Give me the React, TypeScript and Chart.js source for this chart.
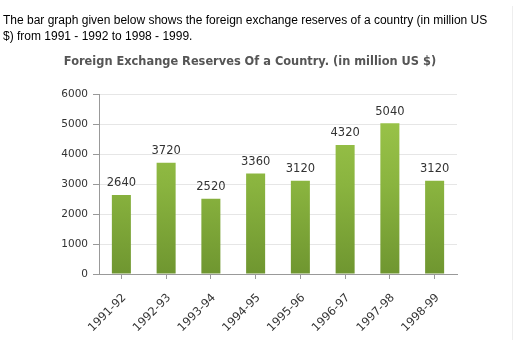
import React, { useEffect, useRef } from "react";
import { Chart, registerables } from "chart.js";

Chart.register(...registerables);

const categories = ["1991-92", "1992-93", "1993-94", "1994-95", "1995-96", "1996-97", "1997-98", "1998-99"];
const reserves = [2640, 3720, 2520, 3360, 3120, 4320, 5040, 3120];
const yTicks = [0, 1000, 2000, 3000, 4000, 5000, 6000];
const chartTitle = "Foreign Exchange Reserves Of a Country. (in million US $)";
const introLine1 = "The bar graph given below shows the foreign exchange reserves of a country (in million US";
const introLine2 = "$) from 1991 - 1992 to 1998 - 1999.";

const FONT = "Verdana, 'DejaVu Sans', sans-serif";

export default function App() {
  const ref = useRef<HTMLCanvasElement | null>(null);

  useEffect(() => {
    const canvas = ref.current;
    if (!canvas) return;
    const valueLabels = {
      id: "valueLabels",
      afterDatasetsDraw(chart: any) {
        const ctx = chart.ctx;
        const meta = chart.getDatasetMeta(0);
        ctx.save();
        ctx.font = `11.5px ${FONT}`;
        ctx.fillStyle = "#333333";
        ctx.textAlign = "center";
        ctx.textBaseline = "bottom";
        meta.data.forEach((bar: any, i: number) => {
          ctx.fillText(String(reserves[i]), bar.x, bar.y - 6);
        });
        ctx.restore();
      },
    };
    const chart = new Chart(canvas, {
      type: "bar",
      data: {
        labels: categories,
        datasets: [
          {
            data: reserves,
            backgroundColor: (c: any) => {
              const area = c.chart.chartArea;
              if (!area) return "#86b03c";
              const g = c.chart.ctx.createLinearGradient(0, area.top, 0, area.bottom);
              g.addColorStop(0, "#9fc84c");
              g.addColorStop(0.5, "#8ab43f");
              g.addColorStop(1, "#6f9630");
              return g;
            },
            borderWidth: 0,
            categoryPercentage: 1,
            barPercentage: 0.425,
          },
        ],
      },
      options: {
        animation: false,
        responsive: false,
        maintainAspectRatio: false,
        layout: { padding: { top: 50, right: 75, bottom: 0, left: 43 } },
        plugins: {
          legend: { display: false },
          tooltip: { enabled: false },
          title: {
            display: true,
            text: chartTitle,
            color: "#555555",
            font: { family: FONT, size: 11.4, weight: "bold" },
            padding: { top: 5, bottom: 26 },
          },
        },
        scales: {
          x: {
            grid: {
              offset: false,
              drawOnChartArea: false,
              drawTicks: true,
              tickLength: 5,
              tickColor: "#999999",
            },
            border: { color: "#999999" },
            ticks: {
              minRotation: 45,
              maxRotation: 45,
              color: "#333333",
              font: { family: FONT, size: 11.5 },
              padding: 12,
              labelOffset: 3,
            },
            afterFit: (s: any) => {
              s.height = 78;
            },
          },
          y: {
            min: 0,
            max: 6000,
            afterBuildTicks: (s: any) => {
              s.ticks = yTicks.map((v) => ({ value: v }));
            },
            grid: {
              color: "#e6e6e6",
              tickColor: "#999999",
              tickLength: 6,
            },
            border: { color: "#999999" },
            ticks: {
              color: "#333333",
              font: { family: FONT, size: 10.5 },
              padding: 5,
              callback: (v: any) => String(v),
            },
            afterFit: (s: any) => {
              s.width = 56;
            },
          },
        },
      },
      plugins: [valueLabels],
    });
    return () => chart.destroy();
  }, []);

  return (
    <div style={{ position: "absolute", left: 0, top: 0, width: 532, height: 352, background: "#fff" }}>
      <canvas ref={ref} width={532} height={352} style={{ position: "absolute", left: 0, top: 0, width: 532, height: 352 }} />
      <div
        style={{
          position: "absolute",
          left: 3,
          top: 12,
          fontFamily: "Arial, 'Liberation Sans', sans-serif",
          fontSize: 12,
          lineHeight: "16px",
          color: "#000",
          whiteSpace: "nowrap",
        }}
      >
        {introLine1}
        <br />
        {introLine2}
      </div>
      <div style={{ position: "absolute", left: 512, top: 6, width: 0, height: 334, borderLeft: "1px solid #eeeeee" }} />
    </div>
  );
}
